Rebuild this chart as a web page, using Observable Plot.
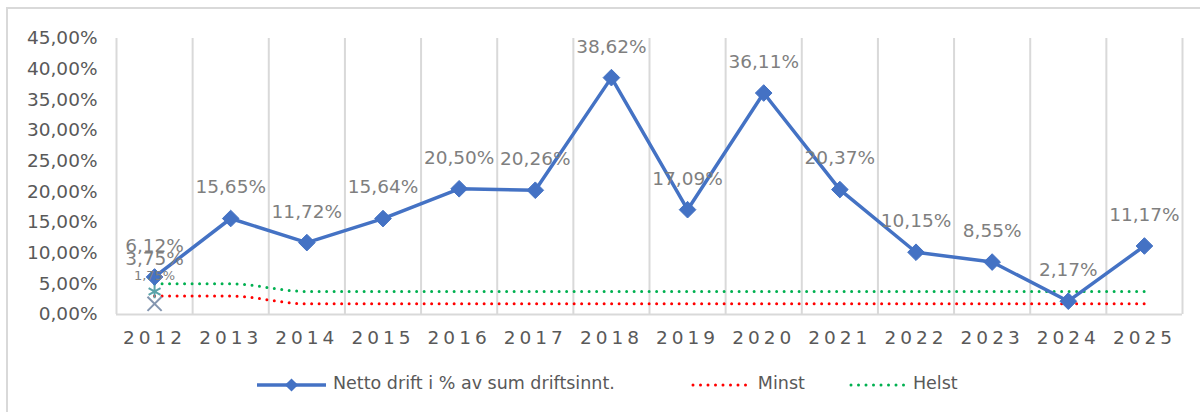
<!DOCTYPE html>
<html>
<head>
<meta charset="utf-8">
<script src="https://cdn.jsdelivr.net/npm/d3@7"></script>
<script src="https://cdn.jsdelivr.net/npm/@observablehq/plot@0.6"></script>
<style>
  html, body { margin: 0; padding: 0; background: #fff; }
  #wrap { position: relative; width: 1200px; height: 412px; overflow: hidden; font-family: "DejaVu Sans", Verdana, sans-serif; }
  #border { position: absolute; left: 6px; top: 7px; width: 1220px; height: 430px; border: 2px solid #d9d9d9; box-sizing: border-box; }
  #chart { position: absolute; left: 0; top: 0; }
  #chart g[aria-label="x-axis tick label"] text { letter-spacing: 4px; }
  #legend { position: absolute; left: 257px; top: 373px; display: flex; align-items: center; font-size: 17.5px; color: #595959; white-space: nowrap; }
  #legend .item { display: flex; align-items: center; }
  #legend svg { display: block; }
</style>
</head>
<body>
<div id="wrap">
  <div id="border"></div>
  <div id="chart"></div>
  <div id="legend"></div>
</div>
<script>
// ---- data ----
const years = [2012, 2013, 2014, 2015, 2016, 2017, 2018, 2019, 2020, 2021, 2022, 2023, 2024, 2025];
const netto = [6.12, 15.65, 11.72, 15.64, 20.50, 20.26, 38.62, 17.09, 36.11, 20.37, 10.15, 8.55, 2.17, 11.17];
const minst = [3, 3, 1.75, 1.75, 1.75, 1.75, 1.75, 1.75, 1.75, 1.75, 1.75, 1.75, 1.75, 1.75];
const helst = [5, 5, 3.75, 3.75, 3.75, 3.75, 3.75, 3.75, 3.75, 3.75, 3.75, 3.75, 3.75, 3.75];
const starYears = [2012];
const starValues = [3.75];
const crossYears = [2012];
const crossValues = [1.75];
const yTicks = [0, 5, 10, 15, 20, 25, 30, 35, 40, 45];
const seriesNames = ["Netto drift i % av sum driftsinnt.", "Minst", "Helst"];

const fmt = v => v.toFixed(2).replace(".", ",") + "%";

const nettoData = years.map((x, i) => ({x, y: netto[i]}));
const minstData = years.map((x, i) => ({x, y: minst[i]}));
const helstData = years.map((x, i) => ({x, y: helst[i]}));
const starData = starYears.map((x, i) => ({x, y: starValues[i]}));
const crossData = crossYears.map((x, i) => ({x, y: crossValues[i]}));
const gridX = [years[0] - 0.5, ...years.map(y => y + 0.5)];

const blue = "#4472C4", red = "#FF0000", green = "#00B050";
const labelColor = "#7f7f7f";

const chart = Plot.plot({
  width: 1200,
  height: 360,
  marginLeft: 116,
  marginRight: 18,
  marginTop: 38,
  marginBottom: 46,
  style: {fontFamily: "DejaVu Sans, Verdana, sans-serif", fontSize: "18.5px", color: "#595959", background: "transparent", overflow: "visible"},
  x: {domain: [years[0] - 0.5, years[years.length - 1] + 0.5], ticks: years, tickFormat: d => String(d), tickSize: 0, tickPadding: 16, label: null},
  y: {domain: [0, 45], ticks: yTicks, tickFormat: fmt, tickSize: 0, tickPadding: 19, label: null},
  marks: [
    Plot.ruleX(gridX, {y1: 0, y2: 45, stroke: "#d9d9d9", strokeWidth: 2}),
    Plot.ruleY([0], {stroke: "#d9d9d9", strokeWidth: 2}),
    Plot.line(minstData, {x: "x", y: "y", stroke: red, strokeWidth: 3, strokeDasharray: "0,7.5", strokeLinecap: "round", curve: "monotone-x"}),
    Plot.line(helstData, {x: "x", y: "y", stroke: green, strokeWidth: 3, strokeDasharray: "0,7.5", strokeLinecap: "round", curve: "monotone-x"}),
    Plot.dot(crossData, {x: "x", y: "y", symbol: "times", r: 6.5, stroke: "#8496b0", strokeWidth: 2}),
    Plot.dot(starData, {x: "x", y: "y", symbol: "asterisk", r: 6.5, stroke: "#5ba3a9", strokeWidth: 2}),
    Plot.line(nettoData, {x: "x", y: "y", stroke: blue, strokeWidth: 3.5}),
    Plot.dot(nettoData, {x: "x", y: "y", symbol: "diamond2", r: 7.5, fill: blue, stroke: blue, strokeWidth: 1}),
    Plot.text(nettoData, {x: "x", y: "y", text: d => fmt(d.y), dy: -31, fill: labelColor, fontSize: 18.5}),
    Plot.text(starData, {x: "x", y: "y", text: d => fmt(d.y), dy: -32, fill: labelColor, fontSize: 18.5}),
    Plot.text(crossData, {x: "x", y: "y", text: d => fmt(d.y), dy: -28, fill: labelColor, fontSize: 13})
  ]
});
document.getElementById("chart").appendChild(chart);

// ---- legend ----
const legend = d3.select("#legend");
function addItem(name, kind, swW, gapAfter) {
  const it = legend.append("div").attr("class", "item").style("margin-right", gapAfter + "px");
  const svg = it.append("svg").attr("width", swW).attr("height", 20).style("margin-right", "7px");
  if (kind === "main") {
    svg.append("line").attr("x1", 0).attr("x2", swW).attr("y1", 12).attr("y2", 12).attr("stroke", blue).attr("stroke-width", 3.5);
    svg.append("path").attr("d", d3.symbol(d3.symbolDiamond2, 110)()).attr("transform", `translate(${swW / 2},12)`).attr("fill", blue);
  } else {
    svg.append("line").attr("x1", 2).attr("x2", swW - 2).attr("y1", 12).attr("y2", 12)
      .attr("stroke", kind === "minst" ? red : green).attr("stroke-width", 3)
      .attr("stroke-dasharray", "0,7.5").attr("stroke-linecap", "round");
  }
  it.append("span").text(name);
}
addItem(seriesNames[0], "main", 69, 76);
addItem(seriesNames[1], "minst", 60, 44);
addItem(seriesNames[2], "helst", 57, 0);
</script>
</body>
</html>
